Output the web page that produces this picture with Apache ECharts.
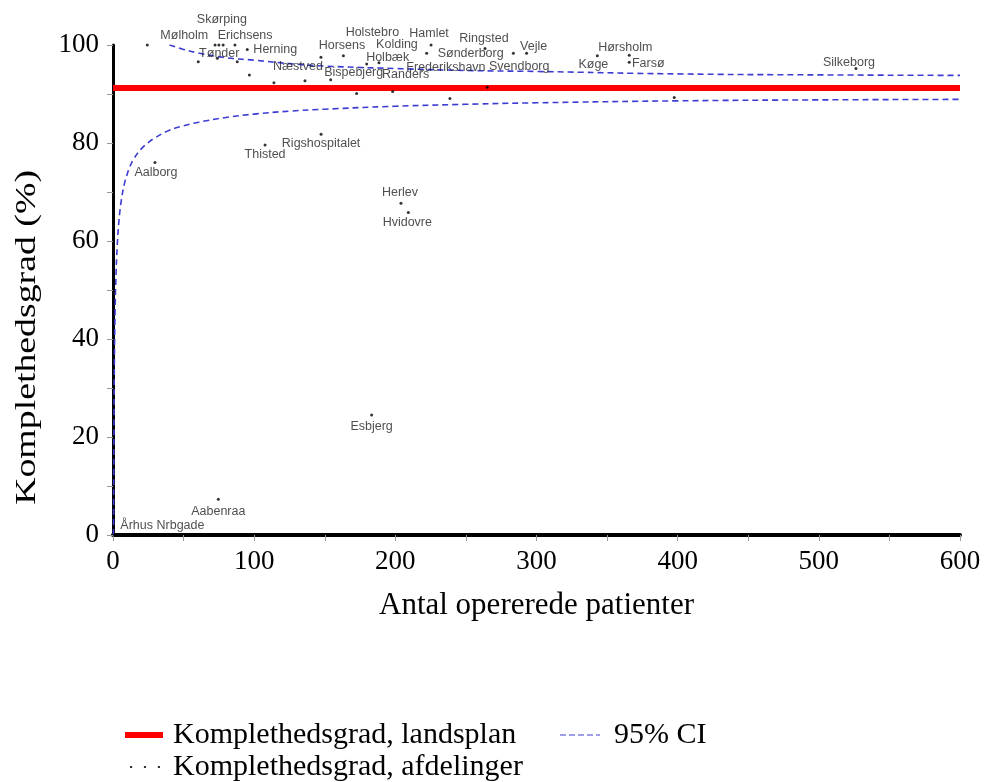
<!DOCTYPE html>
<html>
<head>
<meta charset="utf-8">
<script src="https://cdn.jsdelivr.net/npm/echarts/dist/echarts.min.js"></script>
<style>
html,body{margin:0;padding:0;background:#fff;}
#chart{width:984px;height:782px;}
</style>
</head>
<body>
<div id="chart"></div>
<script>
// ---------------- data ----------------
const hospitals = ['Mølholm','','Skørping','Erichsens','','Herning','Tønder','','','',
  'Næstved','','Horsens','Holstebro','Holbæk','Kolding','Bispebjerg','','Randers','Sønderborg',
  'Hamlet','Frederikshavn','Ringsted','Svendborg','','Vejle','Køge','Hørsholm','Farsø','',
  'Silkeborg','Aalborg','Thisted','Rigshospitalet','Herlev','Hvidovre','Esbjerg','Aabenraa','Århus Nrbgade'];
const patients = [24.3,72.3,75.0,78.0,86.4,95.1,60.4,73.9,88.0,96.6,
  114.0,136.0,147.3,163.2,179.7,188.4,154.2,172.6,198.1,222.2,
  225.3,238.7,263.5,265.1,283.6,293.0,343.1,365.7,365.7,397.6,
  526.3,29.7,107.7,147.4,204.0,209.2,183.2,74.6,1];
const completeness = [100,100,100,100,100,99.1,96.6,97.3,96.6,93.9,
  92.3,92.7,97.5,97.8,96.1,96.4,92.9,90.1,90.5,98.3,
  100,89.1,99.3,91.4,98.3,98.3,97.8,97.9,96.5,89.3,
  95.2,76.0,79.6,81.8,67.7,65.8,24.5,7.3,0];
const nationalX = [0, 600];
const nationalY = [91.2, 91.2];
const ciLowerX = [0.32,0.4,0.5,0.7,1,1.5,2,3,4,5,6,8,10,12,15,20,25,30,40,50,60,80,100,125,150,200,250,300,400,500,600];
const ciLowerY = [0,3.4,12.7,24.8,35.7,45.9,51.9,59.1,63.4,66.4,68.5,71.6,73.6,75.2,76.9,78.8,80.1,81.1,82.6,83.5,84.2,85.2,85.9,86.5,86.9,87.5,87.9,88.2,88.6,88.8,88.9];
const ciUpperX = [40,50,60,80,100,125,150,200,250,300,400,500,600];
const ciUpperY = [100,99.1,98.4,97.4,96.9,96.2,95.7,95.2,94.8,94.6,94.1,93.9,93.8];
const xTicks = {min:0, max:600, interval:100};
const yTicks = {min:0, max:100, interval:20};

// ---------------- label placement (style, pixels) ----------------
const labelNudge = [[37,-9],null,[3,-25],[22,-9],null,[28,0],[21,-8],null,null,null,
  [24,-16],null,[21,-12],[29,-23],[21,-7],[18,-18],[23,-7],null,[13,-17],[44,0],
  [-2,-11],[-4,-31],[-1,-10],[32,-21],null,[7,-7],[-4,9],[-4,-8],[19,1],null,
  [-7,-6],[1,10],[0,10],[0,9],[-1,-11],[-1,10],[0,12],[0,12],[48,-9]];

const serif = 'Liberation Serif';
const sans = 'Liberation Sans';

const scatterData = patients.map((x,i)=>({
  value:[x, completeness[i]],
  name:hospitals[i],
  label:{show: !!hospitals[i]}
}));

const chart = echarts.init(document.getElementById('chart'), null, {renderer:'canvas'});
chart.setOption({
  animation:false,
  backgroundColor:'#fff',
  grid:{left:113, right:24, top:45, bottom:247, containLabel:false},
  xAxis:{
    type:'value', min:xTicks.min, max:xTicks.max, interval:xTicks.interval,
    name:'Antal opererede patienter', nameLocation:'middle', nameGap:55,
    nameTextStyle:{fontFamily:serif, fontSize:31, color:'#000'},
    axisLine:{onZero:false, lineStyle:{color:'#000', width:4}},
    axisTick:{show:true, length:6, lineStyle:{color:'#999', width:1}},
    minorTick:{show:true, splitNumber:2, length:6, lineStyle:{color:'#999', width:1}},
    splitLine:{show:false},
    axisLabel:{fontFamily:serif, fontSize:27, color:'#000', margin:13}
  },
  yAxis:{
    type:'value', min:yTicks.min, max:yTicks.max, interval:yTicks.interval,
    axisLine:{show:true, onZero:false, lineStyle:{color:'#000', width:3}},
    axisTick:{show:true, length:6, lineStyle:{color:'#999', width:1}},
    minorTick:{show:true, splitNumber:2, length:6, lineStyle:{color:'#999', width:1}},
    splitLine:{show:false},
    axisLabel:{fontFamily:serif, fontSize:27, color:'#000', margin:14}
  },
  graphic:[{
    type:'text', left:12, top:170, rotation:Math.PI/2, scaleX:1.26,
    style:{text:'Komplethedsgrad (%)', font:'30px "Liberation Serif"', fill:'#000'}
  }],
  legend:[
    {left:120, top:715, icon:'rect', itemWidth:38, itemHeight:6,
     textStyle:{fontFamily:serif, fontSize:30, color:'#000', padding:[0,0,0,5]},
     data:[{name:'Komplethedsgrad, landsplan', itemStyle:{color:'#ff0000'}}]},
    {left:555, top:715, itemWidth:40, itemHeight:2,
     icon:'path://M0,0h6v1h-6z M9,0h6v1h-6z M18,0h6v1h-6z M27,0h6v1h-6z M36,0h4v1h-4z',
     textStyle:{fontFamily:serif, fontSize:30, color:'#000', padding:[0,0,0,9]},
     data:[{name:'95% CI', itemStyle:{color:'#3c3cd2'}}]},
    {left:125, top:747, itemWidth:30, itemHeight:3,
     icon:'path://M0,0h2v2h-2z M13,0h2v2h-2z M26,0h2v2h-2z',
     textStyle:{fontFamily:serif, fontSize:30, color:'#000', padding:[0,0,0,8]},
     data:[{name:'Komplethedsgrad, afdelinger', itemStyle:{color:'#000'}}]}
  ],
  series:[
    {name:'95% CI', type:'line', data:ciLowerX.map((x,i)=>[x,ciLowerY[i]]),
     showSymbol:false, smooth:true, clip:true,
     lineStyle:{color:'#3c3cd2', width:1.6, type:[6,4]}, z:2},
    {name:'95% CI', type:'line', data:ciUpperX.map((x,i)=>[x,ciUpperY[i]]),
     showSymbol:false, smooth:true, clip:true,
     lineStyle:{color:'#3c3cd2', width:1.6, type:[6,4]}, z:2},
    {name:'Komplethedsgrad, landsplan', type:'line', data:nationalX.map((x,i)=>[x,nationalY[i]]),
     showSymbol:false, lineStyle:{color:'#ff0000', width:6}, z:3},
    {name:'Komplethedsgrad, afdelinger', type:'scatter', data:scatterData,
     symbol:'circle', symbolSize:3, itemStyle:{color:'#000'},
     label:{position:'inside', align:'center', verticalAlign:'middle',
            fontFamily:sans, fontSize:12.5, color:'#222', formatter:'{b}'},
     labelLayout:function(p){
       const n = labelNudge[p.dataIndex] || [0,0];
       return {dx:n[0], dy:n[1], hideOverlap:false};
     }, z:5}
  ]
});
</script>
</body>
</html>
